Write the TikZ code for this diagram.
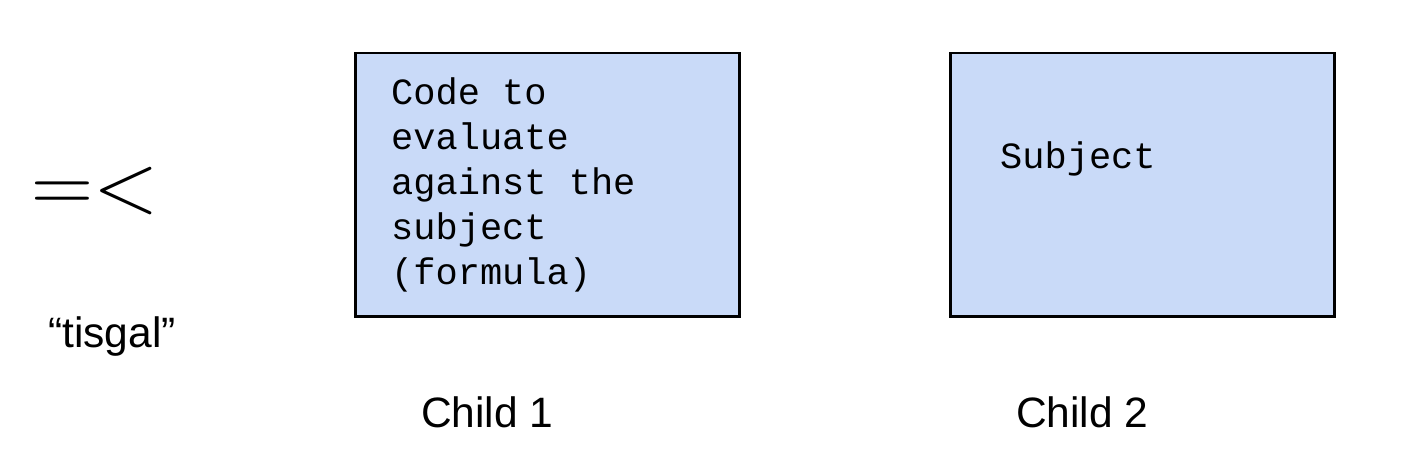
\documentclass[tikz,border=0pt]{standalone}
\usepackage{fontspec}
\newfontfamily\arialfont{Liberation Sans}
\newfontfamily\courierfont{Liberation Mono}
\usetikzlibrary{positioning}
\definecolor{boxblue}{HTML}{C9DAF8}
\tikzset{
  slot/.style={draw=black, line width=2.5pt, fill=boxblue, minimum width=384pt, minimum height=263pt, inner sep=0pt, anchor=north west},
  codetext/.style={font=\courierfont\fontsize{37}{44.8}\selectfont, align=left, inner sep=0pt, anchor=base west},
  caption/.style={font=\arialfont\fontsize{42.5}{50}\selectfont, inner sep=0pt, anchor=base west}
}
\begin{document}
\begin{tikzpicture}[x=1pt,y=-1pt]
  \useasboundingbox (0,0) rectangle (1414,468);
  % Operator
  \node[inner sep=0pt, anchor=base west, font=\fontsize{86}{86}\selectfont] (op) at (31,212) {=<};
  \node[caption] (name) at (48,347) {“tisgal”};
  % Children
  \node[slot] (formula) at (354,52) {};
  \node[slot] (subject) at (949,52) {};
  % base of a multi-line node is its last line
  \node[codetext] (formulatext) at (391,284) {Code to\\evaluate\\against the\\subject\\(formula)};
  \node[codetext] (subjecttext) at (1000,168) {Subject};
  % Labels
  \node[caption] (child1) at (421,427) {Child 1};
  \node[caption] (child2) at (1016,427) {Child 2};
\end{tikzpicture}
\end{document}
